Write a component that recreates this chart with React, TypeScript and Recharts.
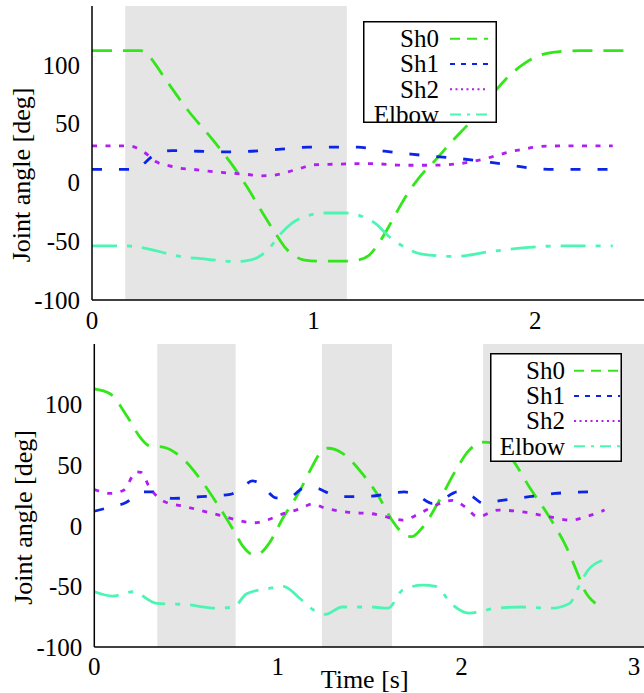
import React from 'react';
import { LineChart, Line, XAxis, YAxis, ReferenceArea, Legend } from 'recharts';

type Pt = [number, number];

const FONT = '"Liberation Serif", "Times New Roman", serif';

// ---- series definitions ----
const SERIES_NAMES = ['Sh0', 'Sh1', 'Sh2', 'Elbow'];
const SERIES_COLORS = ['#33e61a', '#0b24e6', '#b01ef0', '#4df5b3'];
const SERIES_DASH = ['20 11', '10 17', '5 8.5', '25 10 5 10'];
const LEGEND_DASH = ['10 7', '5 6', '2 3.5', '11 6 3 6'];

// ---- top panel (time in s, angle in deg) ----
const TOP_SH0: Pt[] = [[0,112],[0.22,112],[0.25,109],[0.28,102],[0.32,91],[0.43,62],[0.55,35],[0.64,13],[0.70,-4],[0.77,-26],[0.83,-44],[0.87,-55],[0.91,-62],[0.96,-66],[1.04,-67],[1.14,-67],[1.2,-66],[1.25,-62],[1.3,-50],[1.35,-34],[1.40,-17],[1.48,5],[1.54,17],[1.63,36],[1.70,50],[1.77,66],[1.83,80],[1.89,92],[1.95,101],[2.02,108],[2.1,111],[2.2,112],[2.44,112]];
const TOP_SH1: Pt[] = [[0,11],[0.19,11],[0.21,12],[0.235,16],[0.27,22],[0.31,26],[0.36,27],[0.6,26],[0.72,26.5],[0.84,28],[0.98,30],[1.2,30],[1.32,26.5],[1.44,24],[1.55,22],[1.67,20],[1.8,17],[1.91,14],[2.01,11.5],[2.1,11],[2.35,11]];
const TOP_SH2: Pt[] = [[0,31],[0.17,31],[0.2,29.5],[0.24,25],[0.29,17.5],[0.35,14],[0.4,12],[0.46,11],[0.525,9.6],[0.585,8.5],[0.645,7.6],[0.7,6.8],[0.765,5.6],[0.825,6.2],[0.885,9],[0.94,12],[1.0,15],[1.1,15.5],[1.26,16],[1.4,14.6],[1.53,14.6],[1.6,15],[1.66,16],[1.71,17.5],[1.77,20],[1.83,23],[1.885,26],[1.94,28],[1.99,29.7],[2.05,30.8],[2.12,31],[2.35,31]];
const TOP_ELBOW: Pt[] = [[0,-54],[0.15,-54],[0.24,-56],[0.35,-61],[0.41,-63.5],[0.47,-64.4],[0.59,-66.7],[0.65,-67.3],[0.7,-66.5],[0.745,-64],[0.8,-56],[0.85,-44],[0.9,-35],[0.98,-28],[1.04,-26],[1.14,-26],[1.22,-29],[1.28,-35],[1.34,-46],[1.41,-55],[1.49,-61],[1.64,-63],[1.79,-59],[1.99,-55],[2.1,-54],[2.35,-54]];
const TOP_SHADES: Pt[] = [[0.15, 1.15]];
const TOP_X_LABELS = [0, 1, 2];
const TOP_X_MINOR = [0.25, 0.5, 0.75, 1, 1.25, 1.5, 1.75, 2, 2.25];

// ---- bottom panel ----
const BOT_SH0: Pt[] = [[0,113],[0.086,109],[0.18,90],[0.25,73],[0.3,66],[0.375,65],[0.47,57],[0.58,38],[0.67,18],[0.76,-4],[0.81,-17],[0.87,-24],[0.91,-22],[0.95,-15],[1.03,7],[1.12,29],[1.18,47],[1.23,60],[1.27,64],[1.31,63],[1.35,60],[1.46,43],[1.55,24],[1.62,5],[1.68,-6],[1.73,-9],[1.79,-1],[1.88,21],[1.97,46],[2.04,62],[2.11,69],[2.18,68],[2.28,54],[2.37,32],[2.48,7],[2.57,-17],[2.64,-42],[2.67,-53],[2.73,-64]];
const BOT_SH1: Pt[] = [[0,12],[0.1,16],[0.17,19],[0.22,24],[0.27,28],[0.32,28],[0.37,25],[0.43,22.6],[0.58,24],[0.74,26],[0.81,32],[0.86,37],[0.9,35],[0.94,29],[0.99,23],[1.07,24],[1.14,31],[1.21,31],[1.26,28],[1.35,24],[1.51,24.5],[1.62,27],[1.69,28],[1.77,24],[1.84,18.5],[1.9,22],[1.98,28],[2.06,24],[2.12,18.5],[2.22,21],[2.37,24],[2.51,26.7],[2.71,28]];
const BOT_SH2: Pt[] = [[0,30],[0.086,26.7],[0.16,29.4],[0.23,44.5],[0.255,44],[0.3,32],[0.38,20],[0.5,15.7],[0.68,8.8],[0.87,2.5],[0.94,4.7],[1.03,10],[1.12,14],[1.19,18],[1.25,15],[1.39,11],[1.51,10],[1.6,7],[1.68,4.7],[1.77,10],[1.86,17],[1.95,21],[2.02,15.7],[2.09,7.4],[2.2,13],[2.33,11.5],[2.48,7.4],[2.59,4.7],[2.69,8],[2.78,13]];
const BOT_ELBOW: Pt[] = [[0,-54.4],[0.1,-58],[0.21,-54.4],[0.34,-64],[0.5,-65],[0.67,-68],[0.76,-67],[0.83,-56],[0.94,-52],[1.03,-50],[1.12,-60],[1.2,-70],[1.26,-73],[1.35,-67],[1.51,-67],[1.6,-68],[1.68,-53],[1.79,-49],[1.86,-50],[1.95,-65],[2.04,-72],[2.19,-68],[2.33,-67],[2.49,-68],[2.59,-64],[2.64,-50],[2.69,-36.5],[2.78,-28]];
const BOT_SHADES: Pt[] = [[0.343, 0.77], [1.24, 1.622], [2.118, 3]];
const BOT_X_LABELS = [0, 1, 2, 3];
const BOT_X_MINOR = [0.5, 1, 1.5, 2, 2.5];

const Y_TICKS = [-100, -50, 0, 50, 100];
const Y_MINOR = [-50, 0, 50, 100];

const toPts = (a: Pt[]) => a.map(([t, v]) => ({ t, v }));

function LegendBox(props: any) {
  const { w, h, textRight, lineX1, lineX2, rowY0, rowStep } = props;
  return (
    <svg width={w} height={h + 8} style={{ display: 'block', overflow: 'visible' }}>
      <rect x={0.75} y={0.75} width={w - 1.5} height={h - 1.5} fill="#fff" stroke="#000" strokeWidth={1.5} />
      {SERIES_NAMES.map((name, i) => {
        const cy = rowY0 + i * rowStep;
        return (
          <g key={name}>
            <text x={textRight} y={cy + 8.3} textAnchor="end" fontFamily={FONT} fontSize={25} fill="#000">{name}</text>
            <line x1={lineX1} x2={lineX2} y1={cy} y2={cy} stroke={SERIES_COLORS[i]} strokeWidth={2} strokeDasharray={LEGEND_DASH[i]} />
          </g>
        );
      })}
    </svg>
  );
}

function XTick(props: any) {
  const { x, y, payload, maxX } = props;
  const cx = Math.min(x, maxX);
  return (
    <text x={cx} y={y} dy="0.71em" textAnchor="middle" fontFamily={FONT} fontSize={25} fill="#000">{payload.value}</text>
  );
}

function Panel(props: any) {
  const { top, height, margin, xMax, xLabels, xMinor, shades, series, legend, xAxisH, xTickMargin, showXLabel } = props;
  const axisStroke = { stroke: '#000', strokeWidth: 1.5 };
  return (
    <div style={{ position: 'absolute', left: 0, top, width: 660, height }}>
      <LineChart width={660} height={height} margin={margin}>
        {shades.map(([a, b]: Pt, i: number) => (
          <ReferenceArea key={i} x1={a} x2={b} fill="#e5e5e5" fillOpacity={1} stroke="none" ifOverflow="hidden" />
        ))}
        <XAxis dataKey="t" type="number" domain={[0, xMax]} ticks={xLabels} allowDataOverflow interval={0}
          height={xAxisH} tickLine={false} tickSize={0} tickMargin={xTickMargin} axisLine={axisStroke} stroke="#000"
          tick={<XTick maxX={634} />}
          label={showXLabel ? {
            content: (p: any) => {
              const vb = p.viewBox || {};
              return (
                <text x={vb.x + vb.width / 2 - 5} y={vb.y + 41} textAnchor="middle" fontFamily={FONT} fontSize={26} fill="#000">Time [s]</text>
              );
            }
          } : undefined} />
        <XAxis xAxisId="bm" dataKey="t" type="number" domain={[0, xMax]} ticks={xMinor} allowDataOverflow interval={0}
          orientation="bottom" mirror height={0} tick={false} axisLine={false} tickSize={9} tickLine={axisStroke} stroke="#000" />
        <XAxis xAxisId="tm" dataKey="t" type="number" domain={[0, xMax]} ticks={xMinor} allowDataOverflow interval={0}
          orientation="top" mirror height={0} tick={false} axisLine={axisStroke} tickSize={9} tickLine={axisStroke} stroke="#000" />
        <YAxis type="number" domain={[-100, 150]} ticks={Y_TICKS} allowDataOverflow interval={0} width={60}
          tickLine={false} tickSize={0} tickMargin={12} axisLine={axisStroke} stroke="#000"
          tick={{ fill: '#000', fontSize: 25, fontFamily: FONT }}
          label={{
            content: (p: any) => {
              const vb = p.viewBox || {};
              const x = vb.x + vb.width - 62;
              const cy = vb.y + vb.height / 2 + 22;
              return (
                <text x={x} y={cy} textAnchor="middle" transform={`rotate(-90 ${x} ${cy})`} fontFamily={FONT} fontSize={26} fill="#000">Joint angle [deg]</text>
              );
            }
          }} />
        <YAxis yAxisId="lm" type="number" domain={[-100, 150]} ticks={Y_MINOR} allowDataOverflow interval={0}
          orientation="left" mirror width={0} tick={false} axisLine={false} tickSize={6} tickLine={axisStroke} stroke="#000" />
        <YAxis yAxisId="rm" type="number" domain={[-100, 150]} ticks={Y_MINOR} allowDataOverflow interval={0}
          orientation="right" mirror width={0} tick={false} axisLine={axisStroke} tickSize={6} tickLine={axisStroke} stroke="#000" />
        {series.map((s: Pt[], i: number) => (
          <Line key={SERIES_NAMES[i]} name={SERIES_NAMES[i]} data={toPts(s)} dataKey="v" type="monotone"
            stroke={SERIES_COLORS[i]} strokeWidth={2.8} strokeDasharray={SERIES_DASH[i]} dot={false}
            activeDot={false} isAnimationActive={false} />
        ))}
        <Legend layout="vertical" align="center" verticalAlign="middle"
          wrapperStyle={{ left: legend.left, top: legend.top, width: legend.w, height: legend.h + 8 }}
          content={() => <LegendBox {...legend} />} />
      </LineChart>
    </div>
  );
}

export default function App() {
  return (
    <div style={{ position: 'absolute', left: 0, top: 0, width: 644, height: 693, overflow: 'hidden', background: '#fff' }}>
      <Panel top={0} height={340} margin={{ top: 6, right: 14, bottom: 10, left: 32 }} xMax={2.5}
        xLabels={TOP_X_LABELS} xMinor={TOP_X_MINOR} shades={TOP_SHADES}
        series={[TOP_SH0, TOP_SH1, TOP_SH2, TOP_ELBOW]} xAxisH={30} xTickMargin={11} showXLabel={false}
        legend={{ left: 363, top: 21, w: 134, h: 102, textRight: 76, lineX1: 87, lineX2: 125, rowY0: 17.7, rowStep: 25.3 }} />
      <Panel top={340} height={353} margin={{ top: 4, right: 15, bottom: 6, left: 34.3 }} xMax={3}
        xLabels={BOT_X_LABELS} xMinor={BOT_X_MINOR} shades={BOT_SHADES}
        series={[BOT_SH0, BOT_SH1, BOT_SH2, BOT_ELBOW]} xAxisH={40} xTickMargin={10.5} showXLabel={true}
        legend={{ left: 490, top: 13, w: 132, h: 109, textRight: 75, lineX1: 84, lineX2: 130, rowY0: 17.7, rowStep: 25.2 }} />
    </div>
  );
}
